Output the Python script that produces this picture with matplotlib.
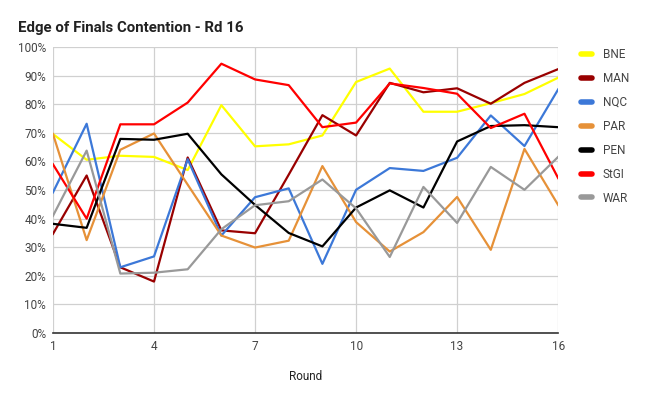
import matplotlib.pyplot as plt
from matplotlib.ticker import PercentFormatter

plt.rcParams['font.family'] = ['Roboto', 'DejaVu Sans']

rounds = list(range(1, 17))
bne = [69.6, 60.6, 62.0, 61.6, 57.0, 79.7, 65.3, 66.0, 69.1, 87.8, 92.5, 77.4, 77.4, 80.4, 83.6, 89.3]
man = [34.7, 55.1, 23.0, 18.0, 61.4, 35.9, 34.9, 55.4, 76.2, 69.1, 87.5, 84.2, 85.6, 80.2, 87.5, 92.3]
nqc = [49.2, 73.2, 23.0, 26.8, 60.8, 34.1, 47.5, 50.6, 24.2, 50.1, 57.7, 56.7, 61.3, 76.1, 65.4, 85.2]
par = [69.6, 32.5, 64.1, 69.8, 51.9, 34.1, 29.9, 32.3, 58.4, 38.8, 28.5, 35.3, 47.6, 29.1, 64.4, 44.8]
pen = [38.2, 36.8, 67.9, 67.6, 69.7, 55.5, 44.8, 35.0, 30.3, 43.9, 49.9, 43.9, 67.0, 72.4, 72.7, 72.0]
stgi = [59.0, 40.0, 73.0, 73.0, 80.6, 94.2, 88.7, 86.7, 72.0, 73.6, 87.3, 85.7, 83.7, 71.7, 76.7, 54.2]
war = [41.0, 63.8, 20.8, 21.1, 22.3, 36.3, 44.7, 46.1, 53.7, 43.6, 26.6, 51.1, 38.5, 58.1, 50.1, 61.6]

teams = ['BNE', 'MAN', 'NQC', 'PAR', 'PEN', 'StGI', 'WAR']
series = [bne, man, nqc, par, pen, stgi, war]
colors = ['#ffff00', '#990000', '#3c78d8', '#e69138', '#000000', '#ff0000', '#999999']

fig = plt.figure(figsize=(6.46, 3.96), dpi=100)
ax = fig.add_axes([0.082, 0.159, 0.782, 0.722])

for name, vals, c in zip(teams, series, colors):
    ax.plot(rounds, [v / 100 for v in vals], color=c, linewidth=1.6, label=name)

ax.set_xlim(1, 16)
ax.set_ylim(0, 1)
ax.set_xticks([1, 4, 7, 10, 13, 16])
ax.set_yticks([i / 10 for i in range(11)])
ax.yaxis.set_major_formatter(PercentFormatter(1.0, decimals=0))
ax.grid(True, color='#d0d0d0', linewidth=0.9)
ax.set_axisbelow(True)
for s in ['left', 'right', 'top']:
    ax.spines[s].set_visible(False)
ax.spines['bottom'].set_color('#333333')
ax.spines['bottom'].set_linewidth(1.2)
ax.tick_params(length=0, labelsize=8.5, labelcolor='#444444', pad=5)
ax.set_xlabel('Round', fontsize=8.5, color='#222222', labelpad=12)

fig.text(0.028, 0.93, 'Edge of Finals Contention - Rd 16', fontsize=10.8,
         fontweight='bold', color='#222222', va='center')

leg = ax.legend(loc='upper left', bbox_to_anchor=(1.025, 1.035), frameon=False,
                fontsize=8.5, handlelength=0.9, handletextpad=0.9, labelspacing=0.93,
                labelcolor='#444444')
for h in leg.get_lines():
    h.set_linewidth(4)
    h.set_solid_capstyle('round')

fig.savefig('out.png', dpi=100)
